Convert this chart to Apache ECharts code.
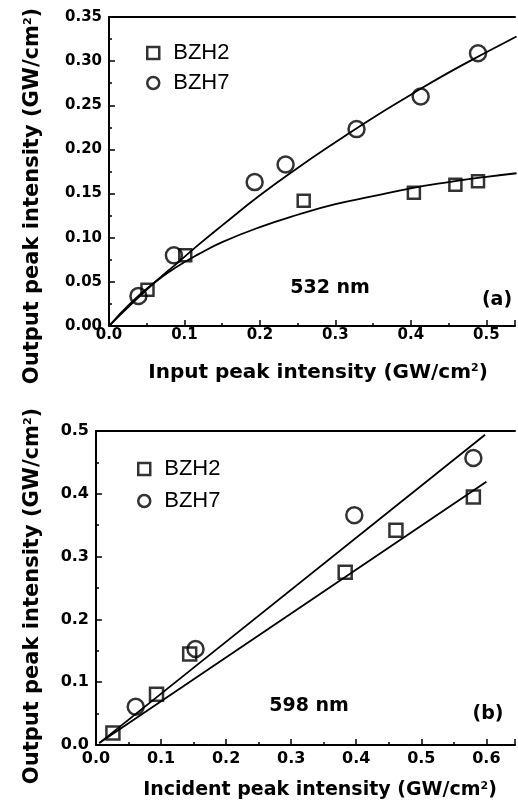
<!DOCTYPE html>
<html><head><meta charset="utf-8">
<script src="https://cdn.jsdelivr.net/npm/echarts@6/dist/echarts.min.js"></script>
<style>html,body{margin:0;padding:0;background:#fff}#c{width:518px;height:810px}</style>
</head><body><div id="c"></div>
<script>
// Panel (a) 532 nm
const aBZH2 = [[0.051,0.041],[0.101,0.080],[0.258,0.142],[0.404,0.151],[0.459,0.160],[0.489,0.164]];
const aBZH7 = [[0.039,0.034],[0.086,0.080],[0.193,0.163],[0.234,0.183],[0.328,0.223],[0.413,0.260],[0.489,0.309]];
const aFit2 = [[0,0],[0.03,0.027],[0.06,0.049],[0.09,0.067],[0.12,0.082],[0.15,0.095],[0.2,0.112],[0.25,0.126],[0.3,0.138],[0.35,0.147],[0.4,0.156],[0.45,0.163],[0.5,0.169],[0.54,0.173]];
const aFit7 = [[0,0],[0.03,0.025],[0.06,0.049],[0.09,0.071],[0.12,0.093],[0.15,0.114],[0.2,0.148],[0.25,0.179],[0.3,0.208],[0.35,0.236],[0.4,0.262],[0.45,0.287],[0.5,0.310],[0.54,0.328]];
// Panel (b) 598 nm
const bBZH2 = [[0.026,0.019],[0.093,0.081],[0.144,0.145],[0.383,0.275],[0.461,0.342],[0.580,0.395]];
const bBZH7 = [[0.061,0.061],[0.153,0.153],[0.397,0.366],[0.580,0.457]];
const bFit2 = [[0.005,0.003],[0.600,0.419]];
const bFit7 = [[0.005,0.003],[0.598,0.494]];
const seriesNames = ['BZH2','BZH7'];

const BF = 'DejaVu Sans';
const chart = echarts.init(document.getElementById('c'), null, {renderer:'canvas'});

function xAx(grid, max, fs, margin){
  return {type:'value', gridIndex:grid, min:0, max:max, interval:0.1,
    axisLine:{onZero:false, lineStyle:{color:'#000', width:2}},
    axisTick:{inside:true, length:6, lineStyle:{color:'#000', width:1.5}},
    minorTick:{show:true, splitNumber:2, length:3, lineStyle:{color:'#000', width:1.5}},
    splitLine:{show:false},
    axisLabel:{color:'#000', fontFamily:BF, fontWeight:'bold', fontSize:fs, margin:margin,
      formatter:function(v){return Math.abs(v*10-Math.round(v*10))<1e-6 ? v.toFixed(1) : '';}}};
}
function topAx(grid, max){
  return {type:'value', gridIndex:grid, position:'top', min:0, max:max,
    axisLine:{onZero:false, lineStyle:{color:'#000', width:2}},
    axisTick:{show:false}, axisLabel:{show:false}, splitLine:{show:false}};
}
function yAx(grid, max, step, dec, fs){
  return {type:'value', gridIndex:grid, min:0, max:max, interval:step,
    axisLine:{show:true, onZero:false, lineStyle:{color:'#000', width:2}},
    axisTick:{show:true, inside:true, length:6, lineStyle:{color:'#000', width:1.5}},
    minorTick:{show:true, splitNumber:2, length:3, lineStyle:{color:'#000', width:1.5}},
    splitLine:{show:false},
    axisLabel:{color:'#000', fontFamily:BF, fontWeight:'bold', fontSize:fs, margin:7,
      formatter:function(v){return v.toFixed(dec);}}};
}
const mkStyle = {color:'rgba(0,0,0,0)', borderColor:'#000', borderWidth:2.5};
function scat(name, data, xi, yi, sym, size){
  return {name:name, type:'scatter', xAxisIndex:xi, yAxisIndex:yi, data:data, symbol:sym, symbolSize:size,
    itemStyle:mkStyle, z:3, emphasis:{disabled:true}};
}
function fit(name, data, xi, yi, smooth){
  return {name:name, type:'line', xAxisIndex:xi, yAxisIndex:yi, data:data, showSymbol:false, smooth:smooth,
    lineStyle:{color:'#000', width:1.8}, z:2, silent:true};
}
function title(text, x, y, rot, fs){
  return {type:'text', x:x, y:y, rotation:rot,
    style:{text:'{n|'+text+'}{s|2}{n|)}', align:'center', verticalAlign:'middle',
      rich:{n:{fontFamily:BF, fontWeight:'bold', fontSize:fs, fill:'#000'},
            s:{fontFamily:BF, fontWeight:'bold', fontSize:11, fill:'#000', verticalAlign:'top'}}}};
}
function note(text, x, y){
  return {type:'text', x:x, y:y, style:{text:text, align:'center', verticalAlign:'middle',
    fontFamily:BF, fontWeight:'bold', fontSize:19, fill:'#000'}};
}
const legendText = {fontFamily:'Liberation Sans', fontSize:22, color:'#000', padding:[0,0,0,9]};
const legendItem = {color:'rgba(0,0,0,0)', borderColor:'#000', borderWidth:2.5};

chart.setOption({
  animation:false,
  backgroundColor:'#fff',
  grid:[{left:109, top:17, width:409, height:309},
        {left:96, top:431, width:422, height:314}],
  xAxis:[xAx(0, 0.538, 15, 2), topAx(0, 0.538), xAx(1, 0.644, 16, 6), topAx(1, 0.644)],
  yAxis:[yAx(0, 0.35, 0.05, 2, 15), yAx(1, 0.5, 0.1, 1, 16)],
  legend:[
    {orient:'vertical', left:141, top:37, itemWidth:12, itemHeight:12, itemGap:8, data:seriesNames, textStyle:legendText, itemStyle:legendItem, selectedMode:false},
    {orient:'vertical', left:132, top:453, itemWidth:12, itemHeight:12, itemGap:10, data:seriesNames, textStyle:legendText, itemStyle:legendItem, selectedMode:false}
  ],
  graphic:[
    title('Output peak intensity (GW/cm', 33, 196, Math.PI/2, 21),
    title('Input peak intensity (GW/cm', 318, 373, 0, 20),
    title('Output peak intensity (GW/cm', 33, 596, Math.PI/2, 21),
    title('Incident peak intensity (GW/cm', 320, 790, 0, 19),
    note('532 nm', 330, 288), note('(a)', 497, 300),
    note('598 nm', 309, 706), note('(b)', 488, 714)
  ],
  series:[
    fit('fitA2', aFit2, 0, 0, true), fit('fitA7', aFit7, 0, 0, true),
    scat('BZH2', aBZH2, 0, 0, 'rect', 12), scat('BZH7', aBZH7, 0, 0, 'circle', 16),
    fit('fitB2', bFit2, 2, 1, false), fit('fitB7', bFit7, 2, 1, false),
    scat('BZH2', bBZH2, 2, 1, 'rect', 13), scat('BZH7', bBZH7, 2, 1, 'circle', 16)
  ]
});
</script></body></html>
